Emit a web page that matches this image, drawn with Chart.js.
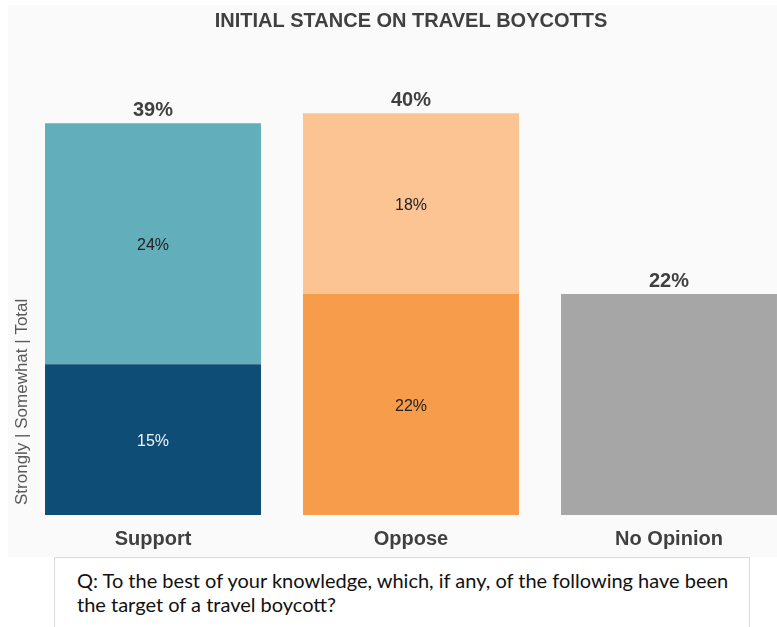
<!DOCTYPE html>
<html>
<head>
<meta charset="utf-8">
<script src="https://cdn.jsdelivr.net/npm/chart.js@4/dist/chart.umd.min.js"></script>
<style>
  body { margin: 0; background: #ffffff; width: 777px; height: 627px; overflow: hidden; position: relative; }
  #chartWrap { position: absolute; left: 8px; top: 5px; width: 769px; height: 552px; overflow: hidden; background: #fafafa; }
  #question {
    position: absolute; left: 54px; top: 557px; width: 672px; height: 80px;
    border: 1px solid #dcdcdc; background: #ffffff;
    padding: 10px 0 0 22px; font-family: Lato, "Open Sans", sans-serif; font-size: 20px;
    line-height: 24px; color: #111111; white-space: nowrap;
  }
</style>
</head>
<body>
<div id="chartWrap"><canvas id="stanceChart" width="800" height="565"></canvas></div>
<div id="question">Q: To the best of your knowledge, which, if any, of the following have been<br>the target of a travel boycott?</div>
<script>
const categories = ['Support', 'Oppose', 'No Opinion'];
const strongly = [15, 22, null];
const somewhat = [24, 18, null];
const noOpinion = [null, null, 22];

const stronglyColors = ['#0e4d76', '#f79c4a', '#a6a6a6'];
const somewhatColors = ['#62afbb', '#fcc393', '#a6a6a6'];
const insideTextColors = [['#f4f4f4', '#222222'], ['#222222', '#222222']];

// percentage labels inside each segment, totals on top, rotated axis note on the left
const barLabels = {
    id: 'barLabels',
    afterDatasetsDraw(chart) {
        const ctx = chart.ctx;
        const yScale = chart.scales.y;
        ctx.save();
        ctx.textAlign = 'center';
        ctx.textBaseline = 'middle';

        ctx.font = '16px Arial, "Liberation Sans", sans-serif';
        [0, 1].forEach(di => {
            const meta = chart.getDatasetMeta(di);
            meta.data.forEach((bar, i) => {
                const v = chart.data.datasets[di].data[i];
                if (v == null) return;
                ctx.fillStyle = insideTextColors[i] ? insideTextColors[i][di] : '#222222';
                ctx.fillText(v + '%', bar.x, (bar.y + bar.base) / 2 + 2);
            });
        });

        ctx.font = 'bold 20px Arial, "Liberation Sans", sans-serif';
        ctx.fillStyle = '#404040';
        const xMeta = chart.getDatasetMeta(0);
        categories.forEach((c, i) => {
            const total = (strongly[i] || 0) + (somewhat[i] || 0) + (noOpinion[i] || 0);
            const top = yScale.getPixelForValue(total);
            ctx.fillText(total + '%', xMeta.data[i].x, top - 13);
        });

        ctx.translate(14, chart.chartArea.bottom - 10);
        ctx.rotate(-Math.PI / 2);
        ctx.textAlign = 'left';
        ctx.font = '17px Arial, "Liberation Sans", sans-serif';
        ctx.fillStyle = '#595959';
        ctx.fillText('Strongly | Somewhat | Total', 0, 0);
        ctx.restore();
    }
};

const ctx = document.getElementById('stanceChart').getContext('2d');
const myChart = new Chart(ctx, {
    type: 'bar',
    data: {
        labels: categories,
        datasets: [{
            label: 'Strongly',
            data: strongly,
            backgroundColor: stronglyColors
        }, {
            label: 'Somewhat',
            data: somewhat,
            backgroundColor: somewhatColors
        }, {
            label: 'No Opinion',
            data: noOpinion,
            backgroundColor: '#a6a6a6'
        }]
    },
    options: {
        responsive: false,
        animation: false,
        categoryPercentage: 1,
        barPercentage: 0.837,
        layout: {
            padding: { left: 16, right: 10, top: 0, bottom: 7 }
        },
        plugins: {
            legend: { display: false },
            tooltip: { enabled: false },
            title: {
                display: true,
                text: 'INITIAL STANCE ON TRAVEL BOYCOTTS',
                color: '#404040',
                font: { family: 'Arial, "Liberation Sans", sans-serif', size: 20, weight: 'bold' },
                padding: { top: 4, bottom: 30 }
            }
        },
        scales: {
            x: {
                stacked: true,
                grid: { display: false, drawTicks: false },
                border: { display: false },
                ticks: {
                    color: '#404040',
                    padding: 12,
                    font: { family: 'Arial, "Liberation Sans", sans-serif', size: 20, weight: 'bold' }
                }
            },
            y: {
                stacked: true,
                display: false,
                min: 0,
                max: 45
            }
        }
    },
    plugins: [barLabels]
});
</script>
</body>
</html>
